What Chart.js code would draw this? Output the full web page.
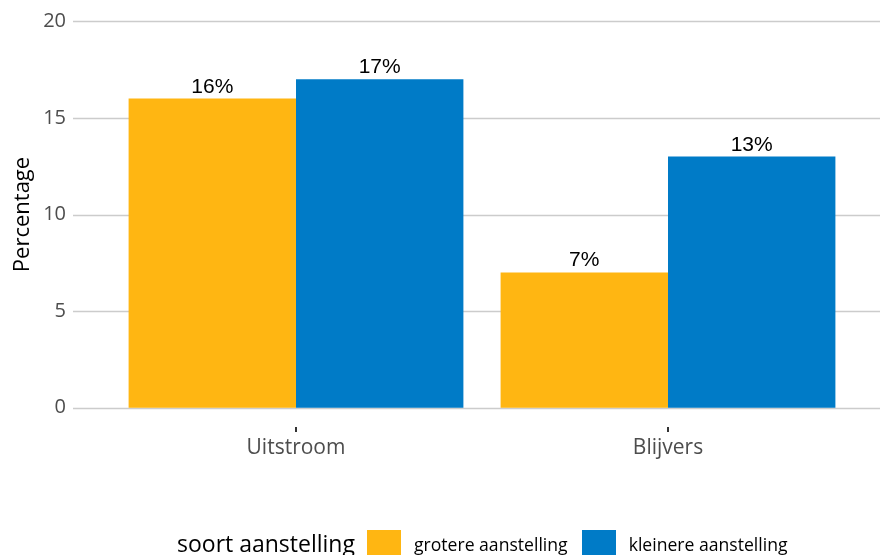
<!DOCTYPE html>
<html lang="nl">
<head>
<meta charset="utf-8">
<title>Uitstroom en blijvers naar soort aanstelling</title>
<script src="https://cdn.jsdelivr.net/npm/chart.js@4.4.1/dist/chart.umd.min.js"></script>
<style>
    html, body { margin: 0; padding: 0; background: #fff; overflow: hidden; }
    #wrap { position: relative; width: 880px; height: 555px; }
    #legend {
        position: absolute; left: 177px; top: 526px; height: 40px;
        display: flex; align-items: flex-start;
        font-family: "Open Sans", sans-serif; color: #000; white-space: nowrap;
    }
    #legend .title { font-size: 23px; line-height: 34px; margin-right: 12px; }
    #legend .key { width: 34px; height: 34px; margin-top: 4px; margin-right: 13px; }
    #legend .lbl { font-size: 17.6px; line-height: 37px; margin-right: 14px; }
</style>
</head>
<body>
<div id="wrap">
    <canvas id="chart" width="880" height="555"></canvas>
    <div id="legend"></div>
</div>
<script>
const categories = ["Uitstroom", "Blijvers"];
const seriesNames = ["grotere aanstelling", "kleinere aanstelling"];
const groter = [16, 7];
const kleiner = [17, 13];
const yTicks = [0, 5, 10, 15, 20];
const colors = ["#FFB612", "#007BC7"];

// horizontale rasterlijnen over de volle breedte (zoals ggplot)
const gridPlugin = {
    id: "fullGrid",
    beforeDatasetsDraw(chart) {
        const ctx = chart.ctx;
        const y = chart.scales.y;
        ctx.save();
        ctx.strokeStyle = "#cccccc";
        ctx.lineWidth = 1.6;
        yTicks.forEach(v => {
            const py = Math.round(y.getPixelForValue(v)) + 0.5;
            ctx.beginPath();
            ctx.moveTo(73, py);
            ctx.lineTo(chart.width, py);
            ctx.stroke();
        });
        ctx.restore();
    }
};

// percentages boven de staven
const labelPlugin = {
    id: "barLabels",
    afterDatasetsDraw(chart) {
        const ctx = chart.ctx;
        ctx.save();
        ctx.font = "21px 'Liberation Sans', Arial, sans-serif";
        ctx.fillStyle = "#000";
        ctx.textAlign = "center";
        ctx.textBaseline = "alphabetic";
        chart.data.datasets.forEach((ds, i) => {
            chart.getDatasetMeta(i).data.forEach((el, j) => {
                ctx.fillText(ds.data[j] + "%", el.x, el.y - 6);
            });
        });
        ctx.restore();
    }
};

new Chart(document.getElementById("chart"), {
    type: "bar",
    data: {
        labels: categories,
        datasets: [
            { label: seriesNames[0], data: groter, backgroundColor: colors[0] },
            { label: seriesNames[1], data: kleiner, backgroundColor: colors[1] },
        ],
    },
    options: {
        responsive: false,
        animation: false,
        events: [],
        categoryPercentage: 0.9,
        barPercentage: 1.0,
        layout: { padding: { left: 0, right: 26, top: 2, bottom: 0 } },
        plugins: {
            legend: { display: false },
            tooltip: { enabled: false },
        },
        scales: {
            x: {
                offset: true,
                afterFit(scale) { scale.height = 128; },
                border: { display: false },
                grid: {
                    offset: false,
                    drawOnChartArea: false,
                    drawTicks: true,
                    tickLength: 5,
                    color: "#333333",
                    lineWidth: 2,
                },
                ticks: {
                    padding: 3,
                    color: "#4d4d4d",
                    font: { family: "'Open Sans', sans-serif", size: 21 },
                },
            },
            y: {
                min: -1,
                max: 21,
                afterFit(scale) {
                    scale.width = 110;
                    // tick padding mag het plotvlak niet verkleinen
                    scale.paddingTop = 0;
                    scale.paddingBottom = 0;
                },
                afterBuildTicks(scale) {
                    scale.ticks = yTicks.map(v => ({ value: v }));
                },
                border: { display: false },
                grid: { display: false },
                ticks: {
                    padding: 36,
                    color: "#4d4d4d",
                    font: { family: "'Open Sans', sans-serif", size: 20 },
                },
                title: {
                    display: true,
                    text: "Percentage",
                    color: "#000",
                    padding: { top: 10, bottom: 0 },
                    font: { family: "'Open Sans', sans-serif", size: 22 },
                },
            },
        },
    },
    plugins: [gridPlugin, labelPlugin],
});

// legenda
const legend = document.getElementById("legend");
legend.innerHTML = '<span class="title">soort aanstelling</span>' +
    seriesNames.map((n, i) =>
        '<span class="key" style="background:' + colors[i] + '"></span><span class="lbl">' + n + '</span>'
    ).join("");
</script>
</body>
</html>
